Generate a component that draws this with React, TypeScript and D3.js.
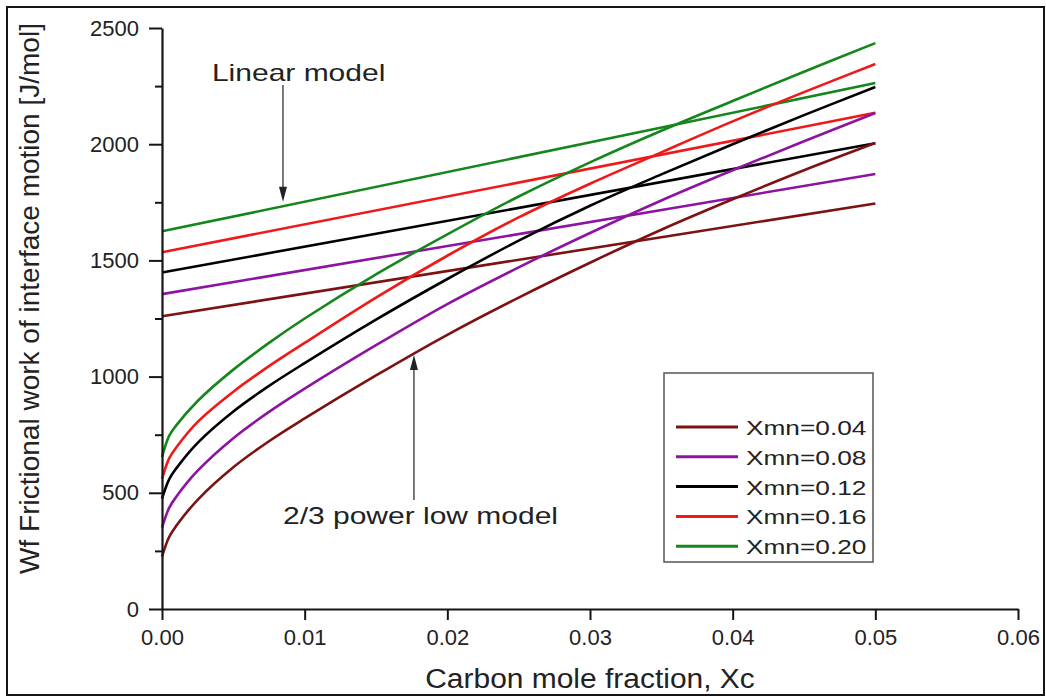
import React, { useEffect, useRef } from "react";
import * as d3 from "d3";

const WIDTH = 1046;
const HEIGHT = 697;

// carbon mole fraction sample points for the 2/3 power law curves
const xcPower = [0, 0.0005, 0.001, 0.0025, 0.005, 0.0075, 0.01, 0.015, 0.02, 0.025, 0.03, 0.035, 0.04, 0.045, 0.05];
const power004 = [225, 310, 358, 470, 610, 722, 820, 1005, 1180, 1340, 1490, 1632, 1763, 1888, 2005];
const power008 = [350, 435, 483, 595, 735, 848, 948, 1135, 1312, 1470, 1618, 1758, 1888, 2013, 2134];
const power012 = [475, 558, 605, 715, 850, 960, 1058, 1245, 1420, 1585, 1735, 1870, 2000, 2125, 2246];
const power016 = [560, 648, 695, 805, 935, 1045, 1145, 1340, 1520, 1685, 1830, 1965, 2098, 2224, 2345];
const power020 = [654, 745, 790, 895, 1030, 1145, 1250, 1440, 1612, 1775, 1922, 2058, 2186, 2312, 2435];

// linear model end points
const xcLinear = [0, 0.05];
const linear004 = [1260, 1745];
const linear008 = [1355, 1872];
const linear012 = [1448, 2004];
const linear016 = [1535, 2135];
const linear020 = [1625, 2263];

const seriesLabels = ["Xmn=0.04", "Xmn=0.08", "Xmn=0.12", "Xmn=0.16", "Xmn=0.20"];
const powerSeries = [power004, power008, power012, power016, power020];
const linearSeries = [linear004, linear008, linear012, linear016, linear020];

const xTicks = [0, 0.01, 0.02, 0.03, 0.04, 0.05, 0.06];
const yTicks = [0, 500, 1000, 1500, 2000, 2500];
const yMinorTicks = [250, 750, 1250, 1750, 2250];

const colors = ["#7d1212", "#8c14a0", "#000000", "#f01818", "#14861c"];
const FONT = "'Liberation Sans', Arial, Helvetica, sans-serif";

const App = () => {
  const svgRef = useRef<SVGSVGElement>(null);

  useEffect(() => {
    document.body.style.margin = "0";
    const svg = d3.select(svgRef.current);
    svg.selectAll("*").remove();

    const margin = { top: 28, right: 28, bottom: 88, left: 162 };
    const x = d3.scaleLinear().domain([0, 0.06]).range([margin.left, WIDTH - margin.right]);
    const y = d3.scaleLinear().domain([0, 2500]).range([HEIGHT - margin.bottom, margin.top]);

    svg.append("rect").attr("width", WIDTH).attr("height", HEIGHT).attr("fill", "#fff");

    // outer frame
    svg
      .append("rect")
      .attr("x", 7)
      .attr("y", 7)
      .attr("width", WIDTH - 9)
      .attr("height", HEIGHT - 9)
      .attr("fill", "none")
      .attr("stroke", "#151515")
      .attr("stroke-width", 2);

    // series
    const line = d3
      .line<[number, number]>()
      .x((d) => x(d[0]))
      .y((d) => y(d[1]))
      .curve(d3.curveCatmullRom.alpha(0.5));

    linearSeries.forEach((vals, i) => {
      svg
        .append("path")
        .attr("d", line(xcLinear.map((xv, j) => [xv, vals[j]] as [number, number])))
        .attr("fill", "none")
        .attr("stroke", colors[i])
        .attr("stroke-width", 2.6);
    });
    powerSeries.forEach((vals, i) => {
      svg
        .append("path")
        .attr("d", line(xcPower.map((xv, j) => [xv, vals[j]] as [number, number])))
        .attr("fill", "none")
        .attr("stroke", colors[i])
        .attr("stroke-width", 2.6);
    });

    // axes
    const xAxis = svg
      .append("g")
      .attr("transform", `translate(0,${y(0)})`)
      .call(
        d3
          .axisBottom(x)
          .tickValues(xTicks)
          .tickFormat(d3.format(".2f"))
          .tickSize(11)
          .tickSizeOuter(0)
          .tickPadding(9)
      );
    const yAxis = svg
      .append("g")
      .attr("transform", `translate(${x(0)},0)`)
      .call(
        d3
          .axisLeft(y)
          .tickValues(yTicks)
          .tickFormat(d3.format("d"))
          .tickSize(13)
          .tickSizeOuter(0)
          .tickPadding(10)
      );
    svg
      .append("g")
      .attr("transform", `translate(${x(0)},0)`)
      .call(d3.axisLeft(y).tickValues(yMinorTicks).tickSize(7).tickFormat(() => ""))
      .call((g) => g.select(".domain").remove())
      .selectAll("line")
      .attr("stroke", "#151515")
      .attr("stroke-width", 2);

    [xAxis, yAxis].forEach((g) => {
      g.select(".domain").attr("stroke", "#151515").attr("stroke-width", 2.2);
      g.selectAll(".tick line").attr("stroke", "#151515").attr("stroke-width", 2);
      g.selectAll(".tick text")
        .attr("font-family", FONT)
        .attr("font-size", 22)
        .attr("fill", "#222");
    });

    // axis titles
    svg
      .append("text")
      .attr("transform", `translate(${(x(0) + x(0.06)) / 2},688) scale(1.07,1)`)
      .attr("text-anchor", "middle")
      .attr("font-family", FONT)
      .attr("font-size", 28)
      .attr("fill", "#222")
      .text("Carbon mole fraction, Xc");

    svg
      .append("text")
      .attr("transform", `translate(39,${y(1250) - 20}) rotate(-90)`)
      .attr("text-anchor", "middle")
      .attr("font-family", FONT)
      .attr("font-size", 28)
      .attr("fill", "#222")
      .text("Wf Frictional work of interface motion [J/mol]");

    // annotations
    const arrow = (xv: number, from: number, to: number) => {
      const ax = x(xv);
      const y0 = y(from);
      const y1 = y(to);
      const dir = y1 > y0 ? 1 : -1;
      svg
        .append("line")
        .attr("x1", ax)
        .attr("x2", ax)
        .attr("y1", y0)
        .attr("y2", y1 - dir * 12)
        .attr("stroke", "#333")
        .attr("stroke-width", 1.3);
      svg
        .append("path")
        .attr("d", `M${ax},${y1} L${ax - 4},${y1 - dir * 15} L${ax + 4},${y1 - dir * 15} Z`)
        .attr("fill", "#222");
    };
    arrow(0.00848, 2255, 1752);
    arrow(0.01766, 469, 1093);

    const note = (xv: number, yv: number, label: string) =>
      svg
        .append("text")
        .attr("transform", `translate(${x(xv)},${y(yv)}) scale(1.25,1)`)
        .attr("font-family", FONT)
        .attr("font-size", 24)
        .attr("fill", "#222")
        .text(label);
    note(0.0035, 2272, "Linear model");
    note(0.00848, 366, "2/3 power low model");

    // legend
    const legend = svg.append("g").attr("transform", "translate(664,373)");
    legend
      .append("rect")
      .attr("width", 209)
      .attr("height", 189)
      .attr("fill", "#fff")
      .attr("stroke", "#555")
      .attr("stroke-width", 1.5);
    seriesLabels.forEach((label, i) => {
      const ry = 54 + i * 29.8;
      legend
        .append("line")
        .attr("x1", 12)
        .attr("x2", 74)
        .attr("y1", ry)
        .attr("y2", ry)
        .attr("stroke", colors[i])
        .attr("stroke-width", 3);
      legend
        .append("text")
        .attr("transform", `translate(82,${ry + 8}) scale(1.25,1)`)
        .attr("font-family", FONT)
        .attr("font-size", 21)
        .attr("fill", "#222")
        .text(label);
    });
  }, []);

  return <svg ref={svgRef} width={WIDTH} height={HEIGHT} style={{ display: "block" }} />;
};

export default App;
